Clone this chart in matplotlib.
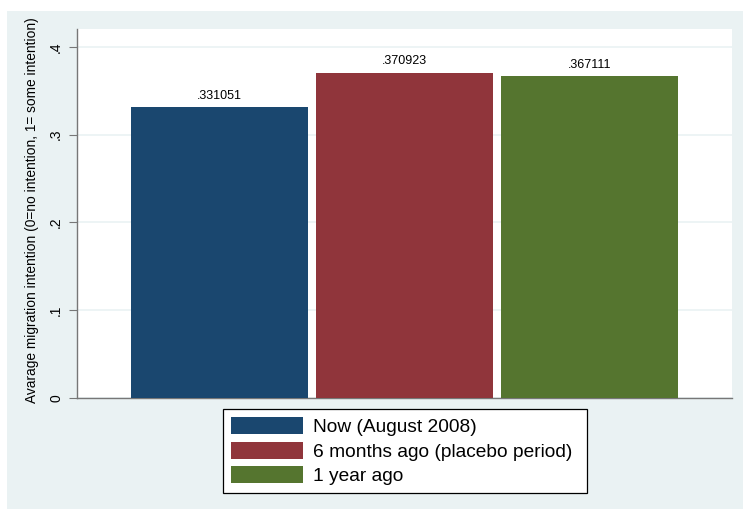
import numpy as np
import matplotlib.pyplot as plt
from matplotlib.patches import Rectangle, Patch

plt.rcParams['font.family'] = ['Liberation Sans', 'DejaVu Sans']

# data
labels = ["Now (August 2008)", "6 months ago (placebo period)", "1 year ago"]
values = [0.331051, 0.370923, 0.367111]
value_text = [".331051", ".370923", ".367111"]
colors = ["#1a476f", "#90353b", "#55752f"]
yticks = [0, 0.1, 0.2, 0.3, 0.4]
ytick_labels = ["0", ".1", ".2", ".3", ".4"]

W, H = 743, 509
fig = plt.figure(figsize=(W / 100, H / 100), dpi=100, facecolor="white")
bg = "#eaf2f3"
fig.add_artist(Rectangle((7 / W, 0), 1 - 7 / W, 1 - 11 / H,
                         transform=fig.transFigure, facecolor=bg,
                         edgecolor="none", zorder=-5))

ax = fig.add_axes([77 / W, (H - 398) / H, 655 / W, (398 - 29) / H])
ax.set_zorder(1)
ax.set_facecolor("white")

x = np.arange(len(values))
bars = ax.bar(x, values, width=0.957, color=colors, zorder=3)
for xi, v, t in zip(x, values, value_text):
    ax.text(xi, v + 0.006, t, ha="center", va="bottom", fontsize=9, zorder=4)

ax.set_xlim(-0.77, 2.77)
ax.set_ylim(0, 0.4205)
ax.set_xticks([])
ax.set_yticks(yticks)
ax.set_yticklabels(ytick_labels, rotation=90, va="center", fontsize=10)
ax.tick_params(axis="y", length=6, width=0.8, color="#777777", pad=4)
ax.yaxis.grid(True, color=bg, linewidth=1.2, zorder=0)
ax.set_axisbelow(True)
for s in ["top", "right"]:
    ax.spines[s].set_visible(False)
for s in ["left", "bottom"]:
    ax.spines[s].set_color("#777777")
    ax.spines[s].set_linewidth(1.0)
ax.set_ylabel("Avarage migration intention (0=no intention, 1= some intention)",
              fontsize=9.9)
ax.yaxis.set_label_coords(-38 / 655, 0.51)

handles = [Patch(facecolor=c, edgecolor="none") for c in colors]
leg = fig.legend(handles, labels, loc="upper left", mode="expand",
                 bbox_to_anchor=(223 / W, 1 - 491 / H, 364 / W, 82 / H),
                 bbox_transform=fig.transFigure,
                 fontsize=13.8, frameon=True, fancybox=False,
                 edgecolor="black", framealpha=1,
                 handlelength=3.75, handleheight=1.0, handletextpad=0.55,
                 labelspacing=0.28, borderpad=0.42, borderaxespad=0)
leg.get_frame().set_linewidth(0.9)

fig.savefig("out.png", dpi=100, facecolor="white")
